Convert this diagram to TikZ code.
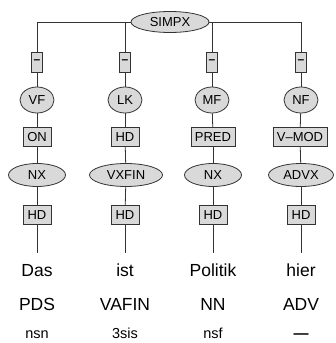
\documentclass[tikz,border=0pt]{standalone}
\usepackage{fontspec}
\setmainfont{Liberation Sans}
\usetikzlibrary{shapes.geometric}
\definecolor{nodefill}{HTML}{D9D9D9}
\definecolor{edge}{HTML}{333333}
\tikzset{
  base/.style={draw=edge, line width=0.8pt, fill=nodefill, inner sep=0pt, font=\fontsize{13}{14}\selectfont},
  catnode/.style={base, ellipse, minimum height=26pt, minimum width=34pt},
  phrnode/.style={base, ellipse, minimum height=23pt},
  fnbox/.style={base, rectangle, minimum height=19pt, minimum width=28pt},
  dashbox/.style={base, rectangle, minimum height=20pt, minimum width=11pt, font=\fontsize{12}{12}\selectfont\bfseries},
  wordnode/.style={inner sep=0pt, anchor=base, font=\fontsize{17.5}{18}\selectfont},
  morphnode/.style={inner sep=0pt, anchor=base, font=\fontsize{14.5}{15}\selectfont},
  conn/.style={draw=edge, line width=0.8pt}
}
\begin{document}
\begin{tikzpicture}[x=1pt, y=-1pt]
\useasboundingbox (0,0) rectangle (335,343);
% top coordinates
\coordinate (t1) at (37,22);
\coordinate (t2) at (125,22);
\coordinate (t3) at (212,22);
\coordinate (t4) at (301,22);
\node[base, ellipse, minimum width=78pt, minimum height=21pt] (simpx) at (170,22) {SIMPX};
\draw[conn] (simpx) -- (t1);
\draw[conn] (simpx) -- (t4);
% dash boxes
\node[dashbox] (d1) at (37,62) {--};
\node[dashbox] (d2) at (125,62) {--};
\node[dashbox] (d3) at (212,62) {--};
\node[dashbox] (d4) at (301,62) {--};
% topological fields
\node[catnode] (c1) at (37,100) {VF};
\node[catnode] (c2) at (125,100) {LK};
\node[catnode] (c3) at (212,100) {MF};
\node[catnode] (c4) at (301,100) {NF};
% functions
\node[fnbox] (f1) at (37,137) {ON};
\node[fnbox] (f2) at (125,137) {HD};
\node[fnbox, minimum width=44pt] (f3) at (213,137) {PRED};
\node[fnbox, minimum width=54pt] (f4) at (300,137) {V--MOD};
% phrases
\node[phrnode, minimum width=57pt] (p1) at (37,175) {NX};
\node[phrnode, minimum width=73pt] (p2) at (126,175) {VXFIN};
\node[phrnode, minimum width=57pt] (p3) at (213,175) {NX};
\node[phrnode, minimum width=65pt] (p4) at (301,175) {ADVX};
% heads
\node[fnbox] (h1) at (37,215) {HD};
\node[fnbox] (h2) at (125,215) {HD};
\node[fnbox] (h3) at (213,215) {HD};
\node[fnbox] (h4) at (301,215) {HD};
% words
\coordinate (wt1) at (37,253);
\coordinate (wt2) at (125,253);
\coordinate (wt3) at (213,253);
\coordinate (wt4) at (301,253);
\node[wordnode] (w1) at (37,276) {Das};
\node[wordnode] (w2) at (125,276) {ist};
\node[wordnode] (w3) at (213,276) {Politik};
\node[wordnode] (w4) at (301,276) {hier};
% POS
\node[wordnode] (s1) at (37,310) {PDS};
\node[wordnode] (s2) at (125,310) {VAFIN};
\node[wordnode] (s3) at (213,310) {NN};
\node[wordnode] (s4) at (301,310) {ADV};
% morph
\node[morphnode] (m1) at (37,338) {nsn};
\node[morphnode] (m2) at (125,338) {3sis};
\node[morphnode] (m3) at (213,338) {nsf};
\node[morphnode, font=\fontsize{15}{16}\selectfont\bfseries] (m4) at (301,338) {---};
% connectors
\foreach \i in {1,2,3,4} {
  \draw[conn] (t\i) -- (d\i);
  \draw[conn] (d\i) -- (c\i);
  \draw[conn] (c\i) -- (f\i);
  \draw[conn] (f\i) -- (p\i);
  \draw[conn] (p\i) -- (h\i);
  \draw[conn] (h\i) -- (wt\i);
}
\end{tikzpicture}
\end{document}
